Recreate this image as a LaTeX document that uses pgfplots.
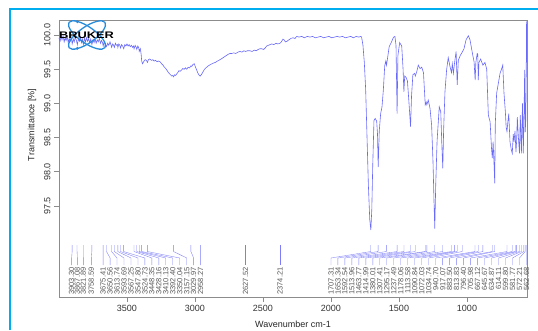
\documentclass[border=0pt]{standalone}
\usepackage{fontspec}
\setmainfont{Liberation Sans}
\usepackage{pgfplots}
\pgfplotsset{compat=1.18}
\definecolor{spec}{RGB}{105,105,250}
\definecolor{pkc}{RGB}{125,125,250}
\definecolor{bruk}{RGB}{40,140,220}
\definecolor{framec}{RGB}{0,174,239}
\newcommand{\pk}[3]{%
\addplot[pkc, line width=0.35pt, forget plot] coordinates {(#1,96.930) (#1,96.835) (#2,96.740) (#2,96.637)};
\node[rotate=90, anchor=east, inner sep=0pt, font=\fontsize{7.5}{8}\selectfont, text=black!65] at (axis cs:#2,96.605) {#3};}
\begin{document}
\begin{tikzpicture}[x=1pt,y=1pt]
\path[use as bounding box] (0pt,0pt) rectangle (538pt,330pt);
\draw[framec, line width=2.6pt] (10pt,0pt) -- (10pt,321pt) -- (538pt,321pt);
\begin{axis}[
  at={(59pt,33pt)}, anchor=south west,
  scale only axis, width=468pt, height=277pt,
  x dir=reverse, xmin=558.8, xmax=4000, ymin=96.17, ymax=100.22,
  xtick={1000,1500,2000,2500,3000,3500},
  ytick={97.5,98,98.5,99,99.5,100},
  xtick pos=lower, ytick pos=left,
  tick align=outside, major tick length=5pt,
  axis line style={black!45, line width=0.8pt},
  tick style={black!45, line width=0.7pt},
  ticklabel style={font=\fontsize{9}{10}\selectfont, text=black!80},
  /pgf/number format/assume math mode=true,
  scaled ticks=false,
  xticklabel style={/pgf/number format/1000 sep={}},
  yticklabel style={rotate=90, anchor=south, /pgf/number format/.cd, fixed, fixed zerofill, precision=1},
  xlabel={Wavenumber cm-1}, ylabel={Transmittance [\%]},
  every axis x label/.style={at={(axis description cs:0.5,-0.0975)}, anchor=center, font=\fontsize{9}{10}\selectfont, text=black!85},
  every axis y label/.style={at={(axis description cs:-0.0577,0.621)}, rotate=90, anchor=center, font=\fontsize{9}{10}\selectfont, text=black!85},
  clip=false,
]
\addplot[spec, line width=0.6pt] table {
4000 99.96
3992 99.91
3985 99.98
3978 99.93
3970 99.99
3962 99.90
3955 99.96
3948 99.92
3940 99.98
3932 99.89
3925 99.95
3918 99.91
3910 99.97
3903 99.87
3895 99.94
3888 99.90
3880 99.97
3872 99.92
3865 99.86
3857 99.95
3850 99.91
3842 99.97
3835 99.89
3828 99.94
3821 99.86
3813 99.95
3805 99.90
3798 99.96
3790 99.91
3782 99.95
3775 99.89
3767 99.94
3758 99.86
3750 99.93
3742 99.89
3735 99.95
3727 99.88
3719 99.93
3711 99.90
3703 99.95
3695 99.88
3687 99.92
3680 99.89
3675 99.84
3668 99.90
3660 99.87
3650 99.83
3642 99.88
3634 99.85
3625 99.90
3618 99.86
3613 99.82
3605 99.87
3598 99.85
3593 99.82
3585 99.88
3578 99.85
3570 99.86
3567 99.82
3560 99.87
3553 99.85
3547 99.81
3540 99.86
3532 99.84
3524 99.80
3516 99.86
3508 99.84
3500 99.87
3492 99.84
3484 99.86
3476 99.83
3468 99.85
3460 99.82
3452 99.84
3448 99.80
3440 99.85
3432 99.82
3428 99.79
3420 99.84
3413 99.81
3410 99.76
3402 99.80
3396 99.72
3392 99.62
3386 99.58
3380 99.60
3372 99.63
3365 99.64
3357 99.63
3350 99.60
3342 99.64
3333 99.65
3320 99.63
3310 99.64
3300 99.62
3290 99.63
3280 99.61
3270 99.62
3257 99.61
3245 99.58
3235 99.56
3225 99.53
3215 99.51
3208 99.49
3198 99.46
3190 99.44
3180 99.42
3171 99.40
3163 99.41
3157 99.39
3150 99.42
3142 99.41
3135 99.43
3127 99.45
3118 99.48
3110 99.47
3098 99.49
3090 99.51
3080 99.50
3070 99.52
3061 99.50
3050 99.53
3040 99.52
3030 99.55
3024 99.54
3015 99.57
3005 99.58
2998 99.54
2988 99.49
2980 99.45
2972 99.42
2963 99.40
2958 99.41
2950 99.43
2939 99.47
2930 99.50
2920 99.52
2902 99.55
2885 99.57
2865 99.59
2850 99.60
2835 99.62
2816 99.64
2800 99.66
2785 99.68
2770 99.70
2755 99.72
2743 99.73
2730 99.73
2715 99.74
2700 99.73
2685 99.75
2669 99.76
2655 99.75
2640 99.77
2627 99.76
2615 99.77
2596 99.77
2580 99.76
2565 99.78
2550 99.77
2535 99.79
2522 99.80
2510 99.80
2495 99.79
2480 99.82
2473 99.84
2460 99.85
2449 99.86
2435 99.87
2420 99.86
2405 99.88
2390 99.87
2375 99.88
2365 99.90
2353 99.94
2345 99.93
2335 99.90
2323 99.91
2310 99.93
2295 99.95
2280 99.96
2265 99.95
2252 99.98
2235 99.97
2215 99.98
2195 99.96
2175 99.98
2155 99.97
2135 99.98
2115 99.96
2095 99.97
2075 99.98
2055 99.96
2035 99.97
2015 99.98
1995 99.96
1975 99.97
1955 99.98
1935 99.97
1915 99.98
1895 99.96
1875 99.97
1855 99.98
1835 99.96
1815 99.98
1795 99.97
1780 99.98
1775 99.97
1765 99.85
1755 99.60
1745 99.20
1735 98.50
1725 97.80
1715 97.30
1707 97.15
1700 97.45
1693 98.10
1684 98.75
1675 98.78
1664 98.74
1658 98.55
1653 98.07
1645 98.60
1635 98.85
1625 98.95
1615 99.20
1605 99.55
1597 99.62
1592 99.56
1585 99.65
1572 99.83
1555 99.90
1540 99.97
1530 99.98
1522 99.85
1514 98.85
1508 99.70
1495 99.89
1480 99.84
1470 99.50
1464 99.17
1458 99.40
1448 99.38
1438 99.33
1428 99.05
1415 98.66
1408 99.10
1398 99.42
1385 99.44
1380 99.40
1370 99.46
1358 99.56
1345 99.51
1333 99.53
1320 99.45
1307 98.98
1300 99.02
1295 98.98
1285 99.05
1272 98.93
1260 98.68
1250 98.15
1243 97.60
1237 97.17
1230 97.80
1220 98.45
1204 98.95
1193 98.88
1185 98.40
1178 98.05
1172 98.60
1162 99.17
1150 99.49
1138 99.67
1125 99.54
1114 99.45
1108 99.58
1100 99.44
1091 99.60
1080 99.76
1072 99.27
1064 99.63
1050 99.70
1035 99.75
1022 99.80
1007 99.93
990 99.99
978 99.93
958 99.71
948 99.61
940 99.34
935 99.60
925 99.73
921 99.72
917 99.34
912 99.60
900 99.65
883 99.56
868 99.60
855 99.50
843 98.83
830 98.73
820 98.35
814 98.20
808 98.44
801 98.10
796 97.83
792 98.70
782 99.15
770 99.29
757 99.44
745 99.51
737 99.56
728 99.15
718 98.88
712 98.65
706 98.59
700 98.72
693 98.85
684 98.44
674 98.32
667 98.27
660 98.55
654 98.44
647 98.60
640 98.29
635 98.45
630 98.80
623 98.53
614 98.27
608 98.83
600 98.27
592 99.00
586 98.27
580 98.90
576 99.49
572 98.58
568 98.75
565 99.30
562 100.20
561 99.60
};
\pk{3903.30}{3907}{3903.30}
\pk{3867.08}{3865}{3867.08}
\pk{3821.89}{3821}{3821.89}
\pk{3758.59}{3762}{3758.59}
\pk{3675.41}{3675.4}{3675.41}
\pk{3650.56}{3624.2}{3650.56}
\pk{3613.74}{3573.0}{3613.74}
\pk{3593.69}{3521.8}{3593.69}
\pk{3567.25}{3470.6}{3567.25}
\pk{3547.80}{3419.4}{3547.80}
\pk{3524.73}{3368.2}{3524.73}
\pk{3448.35}{3317.0}{3448.35}
\pk{3428.16}{3265.8}{3428.16}
\pk{3410.13}{3214.6}{3410.13}
\pk{3392.40}{3163.4}{3392.40}
\pk{3350.04}{3112.2}{3350.04}
\pk{3157.15}{3061.0}{3157.15}
\pk{3029.97}{3009.8}{3029.97}
\pk{2958.27}{2958.6}{2958.27}
\pk{2627.52}{2627.52}{2627.52}
\pk{2374.21}{2374.21}{2374.21}
\pk{1707.31}{2000.5}{1707.31}
\pk{1653.34}{1949.1}{1653.34}
\pk{1592.54}{1897.8}{1592.54}
\pk{1513.96}{1846.4}{1513.96}
\pk{1463.77}{1795.1}{1463.77}
\pk{1414.99}{1743.7}{1414.99}
\pk{1380.01}{1692.4}{1380.01}
\pk{1307.41}{1641.0}{1307.41}
\pk{1295.17}{1589.7}{1295.17}
\pk{1237.49}{1538.3}{1237.49}
\pk{1178.06}{1487.0}{1178.06}
\pk{1113.58}{1435.6}{1113.58}
\pk{1090.84}{1384.3}{1090.84}
\pk{1072.03}{1332.9}{1072.03}
\pk{1034.74}{1281.6}{1034.74}
\pk{940.70}{1230.2}{940.70}
\pk{917.07}{1178.9}{917.07}
\pk{883.50}{1127.5}{883.50}
\pk{813.83}{1076.2}{813.83}
\pk{796.40}{1024.8}{796.40}
\pk{705.98}{973.5}{705.98}
\pk{667.12}{922.1}{667.12}
\pk{645.67}{870.8}{645.67}
\pk{634.87}{819.4}{634.87}
\pk{614.11}{768.1}{614.11}
\pk{599.80}{716.7}{599.80}
\pk{581.77}{665.4}{581.77}
\pk{572.21}{614.0}{572.21}
\pk{562.68}{562.7}{562.68}
\end{axis}
\draw[bruk, line width=1.3pt, rotate around={35:(87pt,295pt)}] (87pt,295pt) ellipse (22pt and 8pt);
\draw[bruk, line width=1.3pt, rotate around={-35:(87pt,295pt)}] (87pt,295pt) ellipse (22pt and 8pt);
\fill[bruk] (77.3pt,308.3pt) circle (1.6pt);
\fill[bruk] (77.3pt,281.7pt) circle (1.6pt);
\node[font=\fontsize{9.5}{10}\selectfont\bfseries, xscale=1.35, inner sep=0pt] at (86.5pt,295pt) {BRUKER};
\end{tikzpicture}
\end{document}
